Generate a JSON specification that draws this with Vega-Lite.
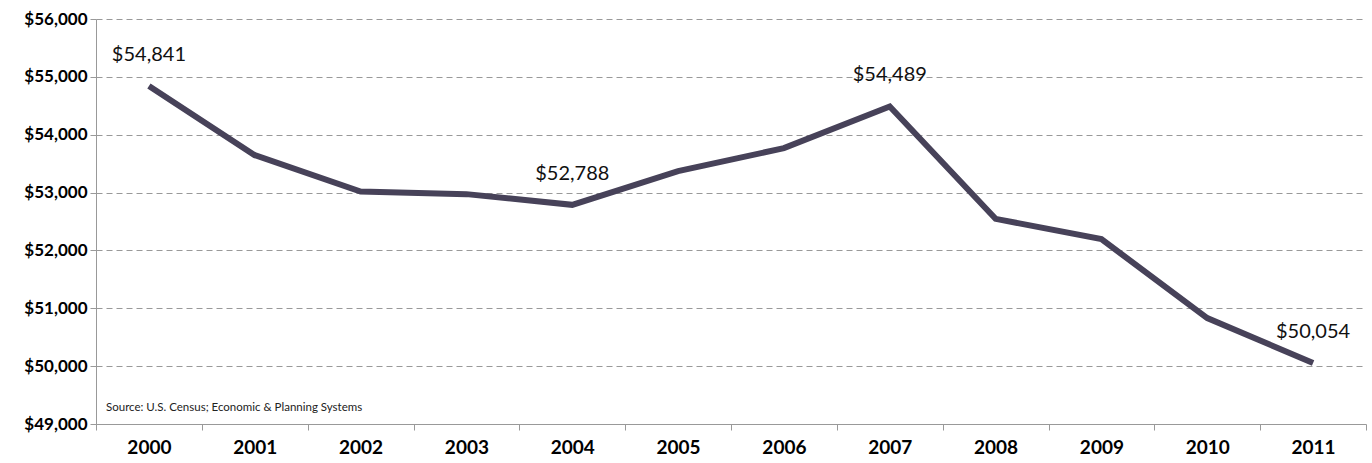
{
  "$schema": "https://vega.github.io/schema/vega-lite/v6.json",
  "width": 1270,
  "height": 405,
  "autosize": "none",
  "padding": {"left": 96, "top": 19, "right": 6, "bottom": 39},
  "background": "white",
  "config": {"view": {"stroke": null}, "font": "Lato"},
  "data": {"values": [
    {"year": "2000", "income": 54841, "label": "$54,841"},
    {"year": "2001", "income": 53646, "label": ""},
    {"year": "2002", "income": 53019, "label": ""},
    {"year": "2003", "income": 52973, "label": ""},
    {"year": "2004", "income": 52788, "label": "$52,788"},
    {"year": "2005", "income": 53371, "label": ""},
    {"year": "2006", "income": 53768, "label": ""},
    {"year": "2007", "income": 54489, "label": "$54,489"},
    {"year": "2008", "income": 52546, "label": ""},
    {"year": "2009", "income": 52195, "label": ""},
    {"year": "2010", "income": 50831, "label": ""},
    {"year": "2011", "income": 50054, "label": "$50,054"}
  ]},
  "encoding": {
    "x": {
      "field": "year", "type": "ordinal", "bandPosition": 0.5,
      "scale": {"type": "band", "paddingInner": 0, "paddingOuter": 0},
      "axis": {
        "title": null, "labelAngle": 0, "tickBand": "extent",
        "domainColor": "#999999", "tickColor": "#999999", "tickSize": 6,
        "labelFont": "Lato", "labelFontWeight": "bold", "labelFontSize": 19,
        "labelColor": "#000000", "labelPadding": 8, "grid": false
      }
    },
    "y": {
      "field": "income", "type": "quantitative",
      "scale": {"domain": [49000, 56000], "nice": false, "zero": false},
      "axis": {
        "title": null, "values": [49000, 50000, 51000, 52000, 53000, 54000, 55000, 56000],
        "format": "$,d", "domainColor": "#999999", "tickColor": "#999999", "tickSize": 6,
        "labelFont": "Lato", "labelFontWeight": "bold", "labelFontSize": 17,
        "labelColor": "#000000", "labelPadding": 3,
        "grid": true, "gridColor": "#999999", "gridDash": [6, 4], "gridWidth": 1.2
      }
    }
  },
  "layer": [
    {"mark": {"type": "line", "color": "#474259", "strokeWidth": 6, "strokeJoin": "miter"}},
    {"mark": {"type": "text", "fontSize": 20, "font": "Lato", "color": "#111111", "dy": -31},
     "encoding": {"text": {"field": "label"}}},
    {"data": {"values": [{"note": "Source: U.S. Census; Economic & Planning Systems", "year": "2000", "pos": 49270}]},
     "mark": {"type": "text", "align": "left", "fontSize": 11.5, "font": "Lato", "color": "#222222", "dx": 10},
     "encoding": {
       "x": {"field": "year", "type": "ordinal", "bandPosition": 0},
       "y": {"field": "pos", "type": "quantitative"},
       "text": {"field": "note"}
     }}
  ]
}
